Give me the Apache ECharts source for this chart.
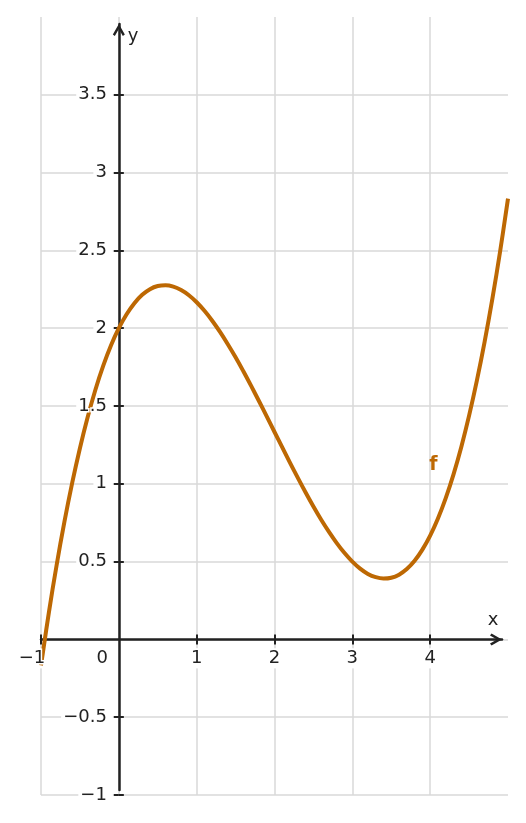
<!DOCTYPE html>
<html><head><meta charset="utf-8">
<script src="https://cdn.jsdelivr.net/npm/echarts@6/dist/echarts.min.js"></script>
<style>html,body{margin:0;padding:0;background:#fff}#c{width:526px;height:823px}</style>
</head><body><div id="c"></div>
<script>
// ---- data ----
const xValues = [-1, -0.9, -0.8, -0.7, -0.6, -0.5, -0.4, -0.3, -0.2, -0.1, 0, 0.1, 0.2, 0.3, 0.4, 0.5, 0.6, 0.7, 0.8, 0.9, 1, 1.1, 1.2, 1.3, 1.4, 1.5, 1.6, 1.7, 1.8, 1.9, 2, 2.1, 2.2, 2.3, 2.4, 2.5, 2.6, 2.7, 2.8, 2.9, 3, 3.1, 3.2, 3.3, 3.4, 3.5, 3.6, 3.7, 3.8, 3.9, 4, 4.1, 4.2, 4.3, 4.4, 4.5, 4.6, 4.7, 4.8, 4.9, 5];
const fValues = [-0.167, 0.169, 0.475, 0.753, 1.004, 1.229, 1.429, 1.606, 1.759, 1.890, 2.000, 2.090, 2.161, 2.215, 2.251, 2.271, 2.276, 2.267, 2.245, 2.212, 2.167, 2.112, 2.048, 1.976, 1.897, 1.813, 1.723, 1.629, 1.532, 1.433, 1.333, 1.234, 1.135, 1.038, 0.944, 0.854, 0.769, 0.691, 0.619, 0.555, 0.500, 0.455, 0.421, 0.400, 0.391, 0.396, 0.416, 0.452, 0.505, 0.577, 0.667, 0.777, 0.908, 1.061, 1.237, 1.438, 1.663, 1.914, 2.192, 2.498, 2.833];
const xRange = [-1, 5];
const yRange = [-1, 4];
const xTickLabels = [-1, 0, 1, 2, 3, 4];
const xTickMarks = [-1, 1, 2, 3, 4];
const yTickLabels = [-1, -0.5, 0.5, 1, 1.5, 2, 2.5, 3, 3.5];
const yTickMarks = [-1, -0.5, 0.5, 1, 1.5, 2, 2.5, 3, 3.5];
const curveName = 'f';
const curveNamePos = [4.04, 1.12];

// ---- styling / layout ----
const FONT = 'DejaVu Sans';
const INK = '#222222';
const CURVE = '#bd6803';
const GRIDC = '#d9d9d9';
const W = 526, H = 823;
const gA = {left: 41, right: 18, top: 17, bottom: 28};            // plot area
const sx = (W - gA.left - gA.right) / (xRange[1] - xRange[0]);
const sy = (H - gA.top - gA.bottom) / (yRange[1] - yRange[0]);
const x0px = gA.left + (0 - xRange[0]) * sx;                       // pixel of x = 0
const y0px = gA.top + (yRange[1] - 0) * sy;                        // pixel of y = 0
const gB = {left: 41, right: 24, top: 24, bottom: 33};             // axis lines ending at arrow tips
const xBmax = xRange[0] + (W - gB.left - gB.right) / sx;
const yBmin = yRange[0] + (gB.bottom - gA.bottom) / sy;
const yBmax = yRange[1] - (gB.top - gA.top) / sy;
const gC = {left: x0px, right: gA.right, top: gA.top, bottom: gA.bottom};   // y ticks/labels on x = 0
const gD = {left: gA.left, right: gA.right, top: gA.top, bottom: H - y0px}; // x ticks/labels on y = 0

const fmt = v => (v < 0 ? '\u2212' + Math.abs(v) : String(v));
const chevron = 'path://M6 0 L12 10.5 L10 12 L6 5 L2 12 L0 10.5 Z';

const hidden = {axisLine: {show: false, onZero: false}, axisTick: {show: false}, axisLabel: {show: false}, splitLine: {show: false}};
const tickStyle = {color: INK, width: 2};
const gridBase = {containLabel: false, outerBoundsMode: 'none'};

// label layers: 'box' = white box under the curve (hides grid lines), 'text' = glyphs with thin halo above the curve
function xLabelAxis(layer) {
  const t = layer === 'box'
    ? {fontFamily: FONT, fontSize: 18, lineHeight: 14, color: 'rgba(0,0,0,0)', backgroundColor: '#fff', padding: [1, 2]}
    : {fontFamily: FONT, fontSize: 18, lineHeight: 14, color: INK, textBorderColor: '#fff', textBorderWidth: 3, padding: [1, 2]};
  return Object.assign({}, hidden, {type: 'value', gridIndex: 3, min: xRange[0], max: xRange[1], position: 'bottom',
    z: layer === 'box' ? 1 : 3,
    axisTick: {show: layer === 'box', customValues: xTickMarks, length: 5, lineStyle: tickStyle},
    axisLabel: {show: true, customValues: xTickLabels, showMinLabel: true, margin: 12, lineHeight: 14,
      formatter: v => v === 0 ? '{t|0}{g0| }' : (v < 0 ? '{t|' + fmt(v) + '}{g1| }' : '{t|' + fmt(v) + '}'),
      rich: {t: t, g0: {width: 33, fontSize: 18, lineHeight: 14}, g1: {width: 18, fontSize: 18, lineHeight: 14}}}});
}
function yLabelAxis(layer) {
  const st = layer === 'box'
    ? {color: 'rgba(0,0,0,0)', backgroundColor: '#fff'}
    : {color: INK, textBorderColor: '#fff', textBorderWidth: 3};
  return Object.assign({}, hidden, {type: 'value', gridIndex: 2, min: yRange[0], max: yRange[1], position: 'left',
    z: layer === 'box' ? 1 : 3,
    axisTick: {show: layer === 'box', customValues: yTickMarks, length: 5, lineStyle: tickStyle},
    axisLabel: Object.assign({show: true, customValues: yTickLabels, showMinLabel: true, margin: 6, formatter: fmt,
      fontFamily: FONT, fontSize: 18, lineHeight: 14, padding: [1, 6, 1, 2]}, st)});
}

const option = {
  animation: false,
  backgroundColor: '#fff',
  grid: [
    Object.assign({}, gridBase, gA),
    Object.assign({}, gridBase, gB),
    Object.assign({}, gridBase, gC),
    Object.assign({}, gridBase, gD)
  ],
  xAxis: [
    // 0: grid lines
    Object.assign({}, hidden, {type: 'value', gridIndex: 0, min: xRange[0], max: xRange[1], interval: 1,
      splitLine: {show: true, showMaxLine: false, lineStyle: {color: GRIDC, width: 1.5}}}),
    // 1: label boxes + downward ticks
    xLabelAxis('box'),
    // 2: upward ticks
    Object.assign({}, hidden, {type: 'value', gridIndex: 3, min: xRange[0], max: xRange[1], position: 'bottom',
      axisTick: {show: true, inside: true, customValues: xTickMarks, length: 5, lineStyle: tickStyle}}),
    // 3: x axis line with arrow
    Object.assign({}, hidden, {type: 'value', gridIndex: 1, min: xRange[0], max: xBmax,
      axisLine: {show: true, onZero: true, onZeroAxisIndex: 3, lineStyle: {color: INK, width: 2.5},
        symbol: ['none', chevron], symbolSize: [12, 12], symbolOffset: [0, -6]},
      name: 'x', nameLocation: 'end', nameGap: -9, nameMoveOverlap: false,
      nameTextStyle: {fontFamily: FONT, fontSize: 18, color: INK, align: 'center', verticalAlign: 'bottom', padding: [0, 0, 10, 0]}}),
    // 4: companion of grid C
    Object.assign({}, hidden, {type: 'value', gridIndex: 2, min: 0, max: xRange[1]}),
    // 5: label glyphs
    xLabelAxis('text')
  ],
  yAxis: [
    // 0: grid lines
    Object.assign({}, hidden, {type: 'value', gridIndex: 0, min: yRange[0], max: yRange[1], interval: 0.5,
      splitLine: {show: true, showMaxLine: false, lineStyle: {color: GRIDC, width: 1.5}}}),
    // 1: label boxes + leftward ticks
    yLabelAxis('box'),
    // 2: rightward ticks
    Object.assign({}, hidden, {type: 'value', gridIndex: 2, min: yRange[0], max: yRange[1], position: 'left',
      axisTick: {show: true, inside: true, customValues: yTickMarks, length: 5, lineStyle: tickStyle}}),
    // 3: y axis line with arrow
    Object.assign({}, hidden, {type: 'value', gridIndex: 1, min: yBmin, max: yBmax,
      axisLine: {show: true, onZero: true, onZeroAxisIndex: 3, lineStyle: {color: INK, width: 2.5},
        symbol: ['none', chevron], symbolSize: [12, 12], symbolOffset: [0, -6]},
      name: 'y', nameLocation: 'end', nameGap: -12.5, nameMoveOverlap: false,
      nameTextStyle: {fontFamily: FONT, fontSize: 18, color: INK, align: 'left', verticalAlign: 'middle', padding: [0, 0, 0, 9]}}),
    // 4: companion of grid D
    Object.assign({}, hidden, {type: 'value', gridIndex: 3, min: 0, max: yRange[1]}),
    // 5: label glyphs
    yLabelAxis('text')
  ],
  series: [
    {type: 'line', xAxisIndex: 0, yAxisIndex: 0, z: 2, smooth: 0.4, showSymbol: false, silent: true,
      data: xValues.map((x, i) => [x, fValues[i]]),
      lineStyle: {color: CURVE, width: 4, join: 'round'}},
    {type: 'scatter', xAxisIndex: 0, yAxisIndex: 0, z: 4, silent: true, symbolSize: 0.1,
      itemStyle: {color: CURVE, opacity: 1},
      data: [curveNamePos],
      label: {show: true, position: 'inside', formatter: curveName, fontFamily: FONT, fontWeight: 'bold', fontSize: 19, color: CURVE, opacity: 1}}
  ]
};
echarts.init(document.getElementById('c'), null, {renderer: 'canvas'}).setOption(option);
</script>
</body></html>
